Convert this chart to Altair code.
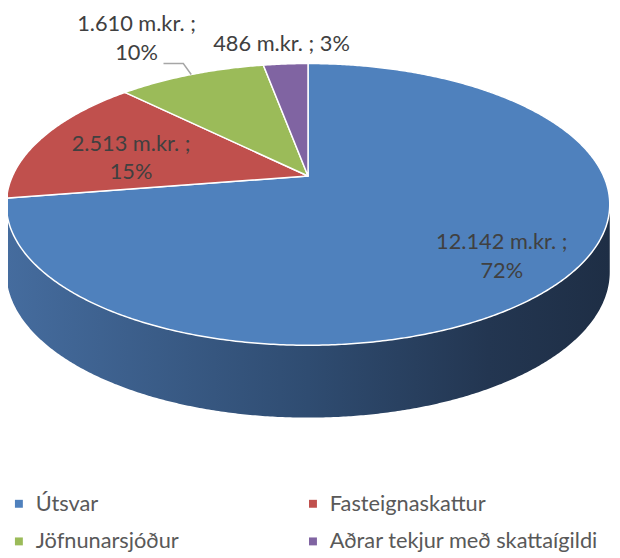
import math
import pandas as pd
import altair as alt

# ---------------- data ----------------
categories = ["Útsvar", "Fasteignaskattur", "Jöfnunarsjóður", "Aðrar tekjur með skattaígildi"]
values = [12142, 2513, 1610, 486]
colors = ["#4F81BD", "#C0504D", "#9BBB59", "#8064A2"]

# ---------------- layout (style) ----------------
W, H = 610, 546
CX, CY = 311.0, 175.0        # pie vertex
SX, SY = 298.5, 136.5        # radii of projected disc
E = 4.97                      # perspective strength
DEPTH, E_SIDE = 67.0, 12.0    # thickness of the pie
FONT = "Lato"
LH = 29
label_r = [0.79, 0.63, 1.47, 1.225]
label_dth = [1.7, -5.5, -2.0, 0.0]
label_sep = ["\n", "\n", "\n", " "]


def proj(theta_deg, r=1.0):
    t = math.radians(theta_deg)
    u, v = r * math.sin(t), r * math.cos(t)
    f = 1.0 + v / E
    return CX + SX * u / f, CY - SY * v / f


total = sum(values)
starts, ends = [], []
acc = 0
for v in values:
    starts.append(acc / total * 360)
    acc += v
    ends.append(acc / total * 360)

# top face polygons
rows = []
for i, name in enumerate(categories):
    x0, y0 = proj(0, 0)
    rows.append({"name": name, "o": 0, "x": x0, "y": y0})
    n = max(2, int((ends[i] - starts[i]) / 0.5) + 1)
    for k in range(n):
        th = starts[i] + (ends[i] - starts[i]) * k / (n - 1)
        x, y = proj(th)
        rows.append({"name": name, "o": k + 1, "x": x, "y": y})
top_df = pd.DataFrame(rows)

# visible side (front of the disc)
th_r = math.degrees(math.acos(-1.0 / E))
th_l = 360 - th_r
side = []
m = 400
for k in range(m + 1):
    th = th_r + (th_l - th_r) * k / m
    x, y = proj(th)
    vv = math.cos(math.radians(th))
    side.append({"x": x, "y": y, "y2": y + DEPTH / (1 + vv / E_SIDE)})
side_df = pd.DataFrame(side)

# labels
lab = []
for i, name in enumerate(categories):
    mid = (starts[i] + ends[i]) / 2 + label_dth[i]
    x, y = proj(mid, label_r[i])
    amount = f"{values[i]:,}".replace(",", ".")
    pct = round(values[i] / total * 100)
    txt = f"{amount} m.kr. ;{label_sep[i]}{pct}%"
    nlines = txt.count("\n") + 1
    lab.append({"x": x, "y": y - (nlines - 1) * LH / 2, "t": txt})
lab_df = pd.DataFrame(lab)

# leader line for Jöfnunarsjóður
mid2 = (starts[2] + ends[2]) / 2
ex, ey = proj(mid2, 1.0)
lead_df = pd.DataFrame({"o": [0, 1, 2], "x": [ex, ex - 8, ex - 28], "y": [ey, ey - 11, ey - 11]})

xs = alt.Scale(domain=[8, 8 + W], nice=False, zero=False)
ys = alt.Scale(domain=[8, 8 + H], nice=False, zero=False, reverse=True)

side_layer = alt.Chart(side_df).mark_area(
    color=alt.Gradient(
        gradient="linear",
        stops=[
            alt.GradientStop(offset=0, color="#456C9E"),
            alt.GradientStop(offset=0.5, color="#2F4C71"),
            alt.GradientStop(offset=0.8, color="#233651"),
            alt.GradientStop(offset=1, color="#1E2E45"),
        ],
        x1=0, x2=1, y1=0, y2=0,
    )
).encode(
    x=alt.X("x:Q", scale=xs, axis=None),
    y=alt.Y("y:Q", scale=ys, axis=None),
    y2="y2:Q",
)

top_layer = alt.Chart(top_df).mark_line(
    interpolate="linear-closed", stroke="white", strokeWidth=1.5, strokeJoin="round"
).encode(
    x=alt.X("x:Q", scale=xs, axis=None),
    y=alt.Y("y:Q", scale=ys, axis=None),
    order="o:Q",
    detail="name:N",
    fill=alt.Fill(
        "name:N",
        scale=alt.Scale(domain=categories, range=colors),
        legend=alt.Legend(
            orient="none", legendX=0, legendY=487, columns=2, direction="horizontal",
            title=None, symbolType="square", symbolSize=64, symbolStrokeWidth=0,
            labelFont=FONT, labelFontSize=22, labelColor="#595959", padding=0,
            labelOffset=6, columnPadding=124, rowPadding=16, labelLimit=400,
        ),
    ),
)

lead_layer = alt.Chart(lead_df).mark_line(color="#A6A6A6", strokeWidth=1.5).encode(
    x=alt.X("x:Q", scale=xs, axis=None),
    y=alt.Y("y:Q", scale=ys, axis=None),
    order="o:Q",
)

text_layer = alt.Chart(lab_df).mark_text(
    font=FONT, fontSize=22, color="#404040", lineBreak="\n", lineHeight=LH,
    align="center", baseline="middle",
).encode(
    x=alt.X("x:Q", scale=xs, axis=None),
    y=alt.Y("y:Q", scale=ys, axis=None),
    text="t:N",
)

chart = alt.layer(side_layer, top_layer, lead_layer, text_layer).properties(
    width=W, height=H, padding=0, autosize=alt.AutoSizeParams(type="none"), background="white"
).configure_view(stroke=None)

chart.save("out.html", embed_options={"renderer": "svg", "actions": False})
